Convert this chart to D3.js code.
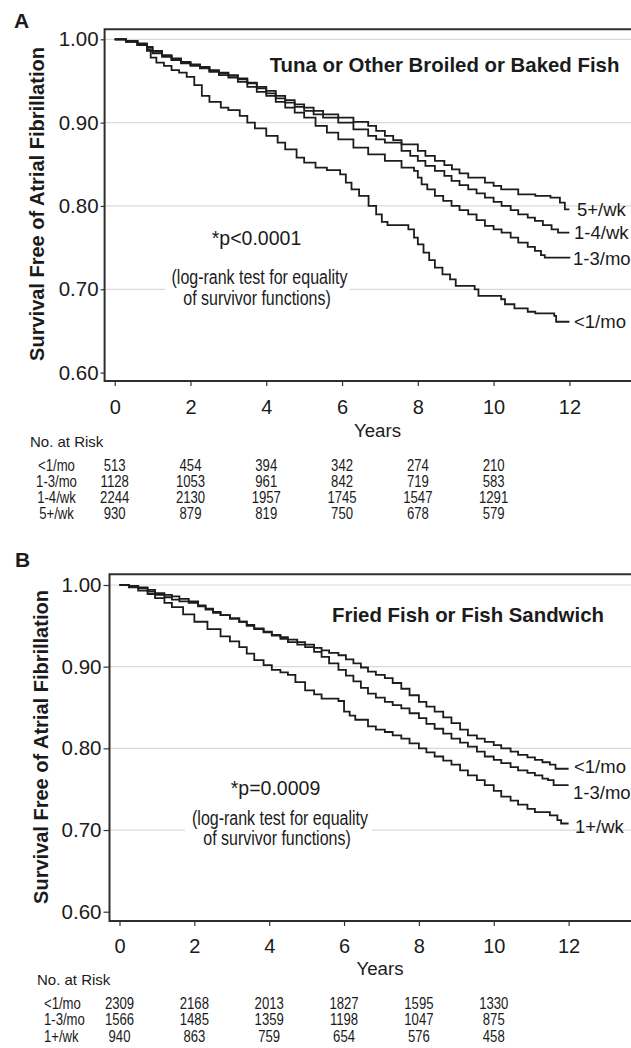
<!DOCTYPE html>
<html><head><meta charset="utf-8">
<script src="https://cdn.jsdelivr.net/npm/d3@7"></script>
<style>
html,body{margin:0;padding:0;background:#fff;}
svg{display:block;}
text{font-family:"Liberation Sans",Arial,Helvetica,sans-serif;fill:#1b1b1b;}
</style></head>
<body>
<script>
// ---------- DATA ----------
const timeTicks = [0, 2, 4, 6, 8, 10, 12];
const survTicks = [0.6, 0.7, 0.8, 0.9, 1.0];
const riskYears = [0, 2, 4, 6, 8, 10];

// Panel A: Tuna or other broiled or baked fish
const groupsA = ["<1/mo", "1-3/mo", "1-4/wk", "5+/wk"];
const curveA_lt1mo = [[0,1],[0.3,0.997],[0.6,0.993],[0.85,0.988],[0.95,0.978],[1.1,0.972],[1.3,0.968],[1.5,0.963],[1.7,0.96],[1.9,0.955],[2.1,0.945],[2.3,0.932],[2.5,0.925],[2.8,0.918],[3.0,0.915],[3.3,0.908],[3.5,0.9],[3.7,0.893],[4.0,0.884],[4.3,0.876],[4.5,0.868],[4.8,0.858],[5.0,0.852],[5.3,0.846],[5.6,0.843],[5.95,0.838],[6.1,0.828],[6.25,0.82],[6.45,0.812],[6.7,0.8],[6.9,0.79],[7.05,0.781],[7.2,0.777],[7.75,0.772],[7.9,0.762],[8.0,0.754],[8.15,0.744],[8.3,0.735],[8.45,0.726],[8.65,0.718],[8.85,0.712],[9.0,0.704],[9.5,0.7],[9.6,0.692],[10.2,0.688],[10.3,0.682],[10.55,0.677],[10.9,0.673],[11.1,0.671],[11.6,0.668],[11.65,0.661],[12.0,0.661]];
const curveA_1to3mo = [[0,1],[0.3,0.997],[0.6,0.993],[0.85,0.986],[1.0,0.983],[1.25,0.979],[1.5,0.975],[1.75,0.971],[2.0,0.968],[2.25,0.965],[2.5,0.961],[2.75,0.957],[3.0,0.954],[3.25,0.949],[3.5,0.943],[3.75,0.937],[4.0,0.932],[4.25,0.925],[4.5,0.918],[4.75,0.912],[5.0,0.906],[5.3,0.896],[5.6,0.888],[5.9,0.88],[6.3,0.87],[6.69,0.862],[7.13,0.854],[7.57,0.846],[7.9,0.842],[8.0,0.834],[8.1,0.826],[8.25,0.82],[8.45,0.812],[8.67,0.806],[8.89,0.8],[9.1,0.795],[9.33,0.79],[9.55,0.783],[9.77,0.776],[10.0,0.772],[10.21,0.768],[10.45,0.762],[10.65,0.756],[10.9,0.751],[11.09,0.746],[11.25,0.741],[11.35,0.738],[12.0,0.737]];
const curveA_1to4wk = [[0,1],[0.3,0.998],[0.6,0.994],[0.85,0.99],[1.0,0.985],[1.25,0.98],[1.5,0.976],[1.75,0.972],[2.0,0.969],[2.25,0.966],[2.5,0.962],[2.75,0.959],[3.0,0.956],[3.25,0.952],[3.5,0.947],[3.75,0.941],[4.0,0.935],[4.25,0.929],[4.5,0.924],[4.75,0.919],[5.0,0.914],[5.25,0.91],[5.5,0.906],[5.9,0.9],[6.3,0.892],[6.69,0.884],[6.9,0.88],[7.13,0.876],[7.57,0.866],[7.8,0.86],[8.0,0.854],[8.2,0.848],[8.45,0.842],[8.7,0.836],[8.89,0.83],[9.1,0.825],[9.33,0.82],[9.55,0.815],[9.77,0.81],[10.0,0.805],[10.21,0.8],[10.45,0.795],[10.65,0.79],[10.9,0.786],[11.09,0.782],[11.3,0.777],[11.53,0.772],[11.7,0.768],[12.0,0.768]];
const curveA_5pluswk = [[0,1],[0.3,0.998],[0.6,0.995],[0.85,0.991],[1.0,0.986],[1.25,0.981],[1.5,0.977],[1.75,0.973],[2.0,0.97],[2.25,0.967],[2.5,0.963],[2.75,0.96],[3.0,0.957],[3.25,0.953],[3.5,0.948],[3.75,0.943],[4.0,0.938],[4.25,0.932],[4.5,0.927],[4.75,0.922],[5.0,0.918],[5.25,0.914],[5.5,0.91],[5.9,0.906],[6.3,0.901],[6.69,0.896],[6.9,0.89],[7.13,0.884],[7.35,0.879],[7.57,0.874],[8.0,0.866],[8.2,0.86],[8.45,0.854],[8.7,0.849],[8.9,0.844],[9.1,0.839],[9.33,0.834],[9.77,0.828],[10.0,0.824],[10.2,0.82],[10.65,0.814],[11.1,0.812],[11.5,0.81],[11.75,0.804],[11.88,0.796],[12.0,0.796]];
const riskA_lt1mo = [513, 454, 394, 342, 274, 210];
const riskA_1to3mo = [1128, 1053, 961, 842, 719, 583];
const riskA_1to4wk = [2244, 2130, 1957, 1745, 1547, 1291];
const riskA_5pluswk = [930, 879, 819, 750, 678, 579];

// Panel B: Fried fish or fish sandwich
const groupsB = ["<1/mo", "1-3/mo", "1+/wk"];
const curveB_lt1mo = [[0,1],[0.25,0.999],[0.5,0.997],[0.75,0.994],[0.95,0.99],[1.2,0.988],[1.4,0.986],[1.6,0.983],[1.85,0.98],[2.1,0.975],[2.3,0.971],[2.5,0.967],[2.7,0.963],[2.95,0.959],[3.2,0.955],[3.4,0.951],[3.6,0.947],[3.85,0.943],[4.07,0.939],[4.3,0.936],[4.5,0.933],[4.75,0.93],[4.96,0.927],[5.2,0.923],[5.4,0.92],[5.6,0.917],[5.85,0.914],[6.05,0.909],[6.25,0.904],[6.45,0.899],[6.64,0.894],[6.85,0.89],[7.09,0.886],[7.3,0.88],[7.53,0.873],[7.75,0.865],[8.0,0.857],[8.2,0.851],[8.42,0.845],[8.65,0.838],[8.87,0.831],[9.1,0.823],[9.31,0.816],[9.55,0.812],[9.76,0.808],[10.0,0.804],[10.2,0.8],[10.45,0.796],[10.65,0.792],[10.9,0.789],[11.1,0.786],[11.3,0.783],[11.5,0.78],[11.65,0.775],[12.0,0.775]];
const curveB_1to3mo = [[0,1],[0.25,0.999],[0.5,0.996],[0.75,0.992],[0.95,0.988],[1.2,0.985],[1.4,0.982],[1.6,0.98],[1.85,0.978],[2.1,0.974],[2.3,0.97],[2.5,0.966],[2.7,0.963],[2.95,0.959],[3.2,0.955],[3.4,0.95],[3.6,0.946],[3.85,0.942],[4.07,0.938],[4.3,0.934],[4.5,0.93],[4.75,0.927],[4.96,0.924],[5.2,0.918],[5.4,0.912],[5.6,0.904],[5.85,0.896],[6.05,0.889],[6.25,0.882],[6.45,0.874],[6.64,0.867],[6.85,0.862],[7.09,0.857],[7.3,0.853],[7.53,0.849],[7.75,0.843],[8.0,0.837],[8.2,0.83],[8.42,0.824],[8.65,0.818],[8.87,0.812],[9.1,0.807],[9.31,0.802],[9.55,0.796],[9.76,0.79],[10.0,0.786],[10.2,0.782],[10.45,0.777],[10.65,0.773],[10.9,0.77],[11.1,0.767],[11.3,0.763],[11.45,0.761],[11.6,0.755],[12.0,0.755]];
const curveB_1pluswk = [[0,1],[0.25,0.997],[0.5,0.993],[0.75,0.989],[0.95,0.984],[1.2,0.978],[1.4,0.973],[1.7,0.964],[2.0,0.955],[2.35,0.946],[2.7,0.937],[2.95,0.931],[3.2,0.924],[3.4,0.916],[3.6,0.908],[3.85,0.902],[4.07,0.896],[4.3,0.893],[4.5,0.89],[4.7,0.881],[4.96,0.871],[5.2,0.866],[5.4,0.861],[5.85,0.858],[6.0,0.845],[6.15,0.84],[6.3,0.835],[6.64,0.827],[6.85,0.823],[7.09,0.82],[7.3,0.816],[7.53,0.812],[7.75,0.806],[8.0,0.8],[8.2,0.795],[8.42,0.79],[8.65,0.785],[8.87,0.78],[9.1,0.773],[9.31,0.767],[9.55,0.761],[9.76,0.755],[10.0,0.748],[10.2,0.741],[10.45,0.736],[10.65,0.731],[10.9,0.726],[11.1,0.722],[11.5,0.718],[11.7,0.712],[11.8,0.708],[12.0,0.708]];
const riskB_lt1mo = [2309, 2168, 2013, 1827, 1595, 1330];
const riskB_1to3mo = [1566, 1485, 1359, 1198, 1047, 875];
const riskB_1pluswk = [940, 863, 759, 654, 576, 458];

// ---------- DRAW ----------
const W = 631, H = 1048;
const svg = d3.select("body").append("svg").attr("width", W).attr("height", H);
svg.append("rect").attr("width", W).attr("height", H).attr("fill", "#fff");

const panels = [
  {
    letter: "A", letterX: 14, letterY: 28,
    title: "Tuna or Other Broiled or Baked Fish", titleX: 444.5, titleY: 65,
    frameL: 104.6, frameT: 29.3, frameB: 381,
    x0: 114.7, x12: 569.4, y1: 39.3, y06: 372.6,
    yTickSize: 4, yTitleX: 37, yTitleY: 204,
    pText: "*p<0.0001", pX: 256.5, pY: 238,
    lr1X: 259.5, lr1Y: 276.7, lr2X: 257, lr2Y: 297.7, boxX0: 165, boxX1: 350,
    yearsX: 377.5, yearsY: 430, tickLabY: 406.7,
    narX: 30, narY: 441.7, rowY0: 465, rowDY: 16.1, rowLabX: 56.5, rowAnchor: "middle",
    groups: groupsA,
    curves: [curveA_lt1mo, curveA_1to3mo, curveA_1to4wk, curveA_5pluswk],
    risks: [riskA_lt1mo, riskA_1to3mo, riskA_1to4wk, riskA_5pluswk],
    labX: [574, 573, 574, 577], labDy: [0, 0, 0, 0]
  },
  {
    letter: "B", letterX: 15, letterY: 567,
    title: "Fried Fish or Fish Sandwich", titleX: 468, titleY: 615,
    frameL: 109.5, frameT: 574.3, frameB: 921,
    x0: 119.5, x12: 568.6, y1: 585, y06: 911.7,
    yTickSize: 6, yTitleX: 41, yTitleY: 747,
    pText: "*p=0.0009", pX: 275.5, pY: 788,
    lr1X: 280, lr1Y: 818, lr2X: 277, lr2Y: 838, boxX0: 185, boxX1: 372,
    yearsX: 380, yearsY: 968.3, tickLabY: 946,
    narX: 37, narY: 980, rowY0: 1003.3, rowDY: 16.3, rowLabX: 44, rowAnchor: "start",
    groups: groupsB,
    curves: [curveB_lt1mo, curveB_1to3mo, curveB_1pluswk],
    risks: [riskB_lt1mo, riskB_1to3mo, riskB_1pluswk],
    labX: [574, 573, 575], labDy: [-2, 7, 3]
  }
];

panels.forEach(p => {
  const g = svg.append("g");
  const x = d3.scaleLinear().domain([0, 12]).range([p.x0, p.x12]);
  const y = d3.scaleLinear().domain([0.6, 1.0]).range([p.y06, p.y1]);

  // gridlines
  g.append("g").selectAll("line").data(survTicks.filter(v => v > 0.6)).join("line")
    .attr("x1", p.frameL).attr("x2", W + 10)
    .attr("y1", d => y(d)).attr("y2", d => y(d))
    .attr("stroke", "#d9d9d9").attr("stroke-width", 1.2);

  // white box behind log-rank note
  g.append("rect").attr("x", p.boxX0).attr("width", p.boxX1 - p.boxX0)
    .attr("y", p.lr1Y - 11).attr("height", p.lr2Y - p.lr1Y + 22).attr("fill", "#fff");

  // y axis
  const ya = g.append("g").attr("transform", `translate(${p.frameL},0)`)
    .call(d3.axisLeft(y).tickValues(survTicks).tickFormat(d3.format(".2f")).tickSize(p.yTickSize).tickPadding(2));
  ya.select(".domain").remove();
  ya.selectAll("line").attr("stroke", "#333").attr("stroke-width", 1.2);
  ya.selectAll("text").attr("font-size", 20.5).attr("fill", "#1b1b1b")
    .attr("font-family", '"Liberation Sans",Arial,sans-serif');

  // x axis
  const xa = g.append("g").attr("transform", `translate(0,${p.frameB})`)
    .call(d3.axisBottom(x).tickValues(timeTicks).tickSize(5).tickPadding(0).tickFormat(d3.format("d")));
  xa.select(".domain").remove();
  xa.selectAll("line").attr("stroke", "#333").attr("stroke-width", 1.2);
  xa.selectAll("text").attr("font-size", 20).attr("fill", "#1b1b1b")
    .attr("font-family", '"Liberation Sans",Arial,sans-serif')
    .attr("y", p.tickLabY - p.frameB).attr("dy", "0.35em");

  // frame (right side runs off the page)
  g.append("path")
    .attr("d", `M${W + 10},${p.frameT}H${p.frameL}V${p.frameB}H${W + 10}`)
    .attr("fill", "none").attr("stroke", "#2e2e2e").attr("stroke-width", 2);

  // curves
  const line = d3.line().x(d => x(d[0])).y(d => y(d[1])).curve(d3.curveStepAfter);
  g.append("g").selectAll("path").data(p.curves).join("path")
    .attr("d", line).attr("fill", "none").attr("stroke", "#1c1c1c").attr("stroke-width", 1.8);

  // curve labels
  g.append("g").selectAll("text").data(p.curves).join("text")
    .attr("x", (d, i) => p.labX[i])
    .attr("y", (d, i) => y(d[d.length - 1][1]) + p.labDy[i])
    .attr("dy", "0.35em").attr("font-size", 18.5)
    .text((d, i) => p.groups[i]);

  // panel letter
  g.append("text").attr("x", p.letterX).attr("y", p.letterY)
    .attr("font-size", 21).attr("font-weight", "bold").text(p.letter);

  // title
  g.append("text").attr("x", p.titleX).attr("y", p.titleY).attr("dy", "0.35em")
    .attr("text-anchor", "middle").attr("font-size", 20.4).attr("font-weight", "bold").text(p.title);

  // y axis title
  g.append("text").attr("transform", `translate(${p.yTitleX},${p.yTitleY}) rotate(-90)`)
    .attr("text-anchor", "middle").attr("dy", "0.35em")
    .attr("font-size", 20).attr("font-weight", "bold")
    .text("Survival Free of Atrial Fibrillation");

  // p-value note
  g.append("text").attr("x", p.pX).attr("y", p.pY).attr("dy", "0.35em")
    .attr("text-anchor", "middle").attr("font-size", 19.5).text(p.pText);
  g.append("text").attr("class", "narrow").attr("x", p.lr1X).attr("y", p.lr1Y).attr("dy", "0.35em")
    .attr("text-anchor", "middle").attr("font-size", 19.5).text("(log-rank test for equality");
  g.append("text").attr("class", "narrow").attr("x", p.lr2X).attr("y", p.lr2Y).attr("dy", "0.35em")
    .attr("text-anchor", "middle").attr("font-size", 19.5).text("of survivor functions)");

  // x axis title
  g.append("text").attr("x", p.yearsX).attr("y", p.yearsY).attr("dy", "0.35em")
    .attr("text-anchor", "middle").attr("font-size", 18.7).text("Years");

  // No. at Risk table
  g.append("text").attr("x", p.narX).attr("y", p.narY).attr("dy", "0.35em")
    .attr("font-size", 15).text("No. at Risk");
  p.risks.forEach((row, i) => {
    const ry = p.rowY0 + i * p.rowDY;
    g.append("text").attr("class", "narrow").attr("x", p.rowLabX).attr("y", ry).attr("dy", "0.35em")
      .attr("text-anchor", p.rowAnchor).attr("font-size", 16).text(p.groups[i]);
    g.append("g").selectAll("text").data(row).join("text").attr("class", "narrow")
      .attr("x", (d, j) => x(riskYears[j])).attr("y", ry).attr("dy", "0.35em")
      .attr("text-anchor", "middle").attr("font-size", 16).text(d => d);
  });
});

// condensed look for the narrow texts (the original uses a narrow face)
svg.selectAll("text.narrow").each(function () {
  const w = this.getComputedTextLength();
  d3.select(this).attr("textLength", w * 0.82).attr("lengthAdjust", "spacingAndGlyphs");
});
</script>
</body></html>
